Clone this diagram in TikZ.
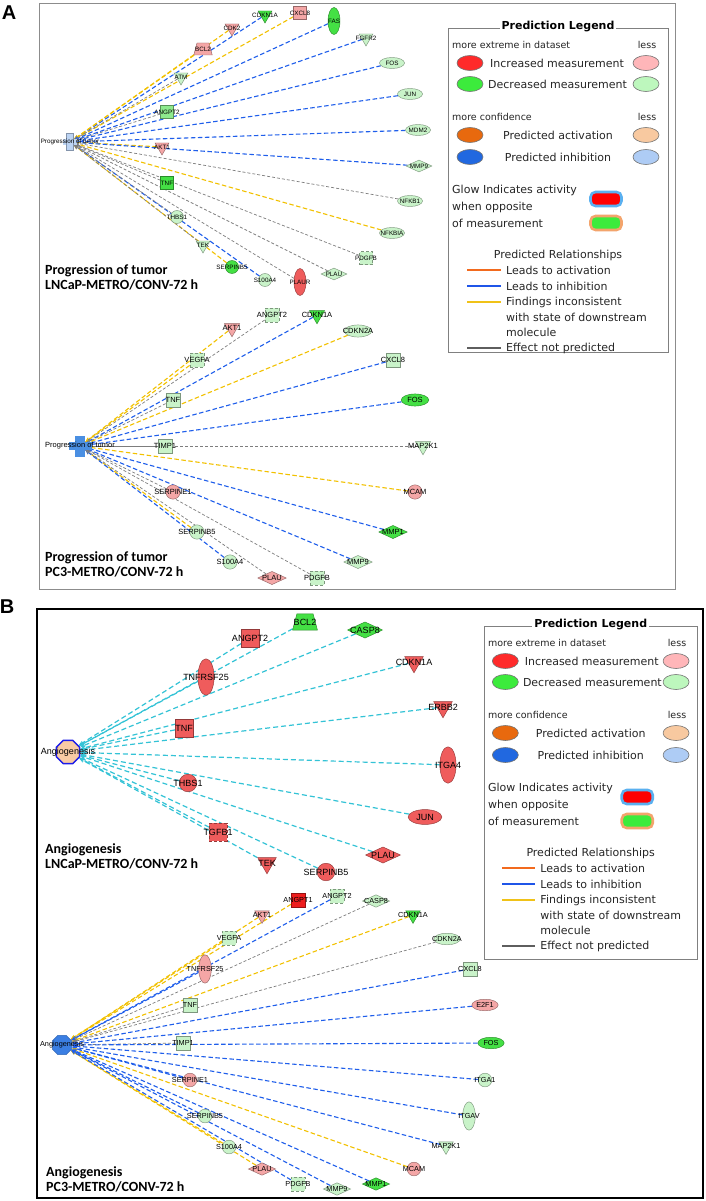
\documentclass[tikz,border=0pt]{standalone}
\usepackage{fontspec}
\newfontfamily\lab{Liberation Sans}
\newfontfamily\legf{DejaVu Sans}
\newfontfamily\ttl{Carlito}
\usetikzlibrary{shapes.geometric,arrows.meta,backgrounds}
\definecolor{pg}{HTML}{C9F3C9}
\definecolor{gr}{HTML}{44E044}
\definecolor{mg}{HTML}{8EEA8E}
\definecolor{pk}{HTML}{F4A6A6}
\definecolor{rd}{HTML}{EF5C5C}
\definecolor{rdb}{HTML}{EE1D1D}
\definecolor{eblue}{HTML}{1F5EEB}
\definecolor{eyel}{HTML}{F2C100}
\definecolor{egray}{HTML}{7D7D7D}
\definecolor{ecyan}{HTML}{33C3D6}
\definecolor{hubAa}{HTML}{BCD4F4}
\definecolor{hubAb}{HTML}{4A8FE2}
\definecolor{hubBa}{HTML}{F9CBA4}
\definecolor{hubBb}{HTML}{3B7FE3}
\definecolor{octb}{HTML}{1C1CE8}
\definecolor{lred}{HTML}{FF2A2A}
\definecolor{lpink}{HTML}{FFB6B9}
\definecolor{lgreen}{HTML}{3CEB3C}
\definecolor{lpgreen}{HTML}{BDF7BD}
\definecolor{lorange}{HTML}{E8690E}
\definecolor{lpeach}{HTML}{F8C9A0}
\definecolor{lblue}{HTML}{2168E0}
\definecolor{lpblue}{HTML}{AECCF5}
\definecolor{glowb}{HTML}{5AB0F0}
\definecolor{glowo}{HTML}{F3A46C}
\definecolor{lnor}{HTML}{F26A1E}
\definecolor{lnbl}{HTML}{1F55E8}
\definecolor{lnyl}{HTML}{F0C218}
\definecolor{lngr}{HTML}{5E5E5E}

\newcommand\PredLegend[4]{%
\begin{scope}[shift={(#1,#2)},xscale=#3]
 \draw[draw=black!50, line width=0.9pt] (0,0) rectangle (220,#4);
 \node[legttl] at (110,-1) {Prediction Legend};
 \node[legsm, anchor=west] at (4,17) {more extreme in dataset};
 \node[legsm] at (199,17) {less};
 \node[legell, fill=lred] at (22,35) {};
 \node[legtx, anchor=west] at (42,35) {Increased measurement};
 \node[legell, fill=lpink] at (198,35) {};
 \node[legell, fill=lgreen] at (22,56) {};
 \node[legtx, anchor=west] at (40,56) {Decreased measurement};
 \node[legell, fill=lpgreen] at (198,56) {};
 \node[legsm, anchor=west] at (4,89) {more confidence};
 \node[legsm] at (199,89) {less};
 \node[legell, fill=lorange] at (22,107) {};
 \node[legtx] at (110,107) {Predicted activation};
 \node[legell, fill=lpeach] at (198,107) {};
 \node[legell, fill=lblue] at (22,129) {};
 \node[legtx] at (110,129) {Predicted inhibition};
 \node[legell, fill=lpblue] at (198,129) {};
 \node[legtx, anchor=west] at (4,162) {Glow Indicates activity};
 \node[legtx, anchor=west] at (4,179) {when opposite};
 \node[legtx, anchor=west] at (4,195) {of measurement};
 \node[glowst=glowb, fill=red] at (158,171) {};
 \node[glowst=glowo, fill=lgreen] at (158,195) {};
 \node[legtx] at (110,227) {Predicted Relationships};
 \draw[legln, lnor] (19,242) -- (53,242);
 \node[legtx, anchor=west] at (58,242) {Leads to activation};
 \draw[legln, lnbl] (19,258) -- (53,258);
 \node[legtx, anchor=west] at (58,258) {Leads to inhibition};
 \draw[legln, lnyl] (19,274) -- (53,274);
 \node[legtx, anchor=west] at (58,274) {Findings inconsistent};
 \node[legtx, anchor=west] at (58,289) {with state of downstream};
 \node[legtx, anchor=west] at (58,304) {molecule};
 \draw[legln, lngr] (19,320) -- (53,320);
 \node[legtx, anchor=west] at (58,320) {Effect not predicted};
\end{scope}}

\begin{document}
\begin{tikzpicture}[x=1pt,y=-1pt,
  lbl/.style={font=\lab\fontsize{\fs}{\fs}\selectfont, inner sep=0pt},
  gene/.style={draw=#1!62!black, fill=#1, line width=0.45pt, inner sep=0.6pt},
  tri/.style={regular polygon, regular polygon sides=3, shape border rotate=180, minimum size=16*\sz},
  sq/.style={rectangle, minimum width=13*\sz, minimum height=13*\sz},
  sqd/.style={sq, densely dashed},
  gcirc/.style={circle, minimum size=13*\sz},
  ell/.style={ellipse, minimum width=25*\sz, minimum height=11*\sz},
  vell/.style={ellipse, minimum width=12*\sz, minimum height=27*\sz},
  dia/.style={diamond, minimum width=26*\sz, minimum height=12*\sz},
  trap/.style={trapezium, trapezium angle=75, minimum width=16*\sz, minimum height=12*\sz},
  ebase/.style={line width=1.1pt, dash pattern=on 4.5pt off 2.5pt, -{Stealth[length=5pt,width=4pt]}},
  eb/.style={ebase, draw=eblue},
  ey/.style={ebase, draw=eyel},
  eg/.style={ebase, draw=egray, line width=0.7pt, dash pattern=on 3pt off 2pt},
  eG/.style={ebase, draw=egray, line width=0.8pt, solid},
  ec/.style={ebase, draw=ecyan, line width=1.2pt, dash pattern=on 5pt off 3pt},
  hubbar/.style={rectangle, inner sep=0.5pt, draw=none},
  ttlst/.style={anchor=west, align=left, inner sep=0pt, font=\ttl\bfseries\fontsize{14}{15}\selectfont},
  letter/.style={font=\lab\bfseries\fontsize{20}{20}\selectfont, inner sep=0pt},
  legttl/.style={font=\legf\bfseries\fontsize{11}{12}\selectfont, fill=white, inner xsep=2pt, inner ysep=0pt},
  legtx/.style={font=\legf\fontsize{11}{12}\selectfont, inner sep=0pt, text=black!85},
  legsm/.style={font=\legf\fontsize{9.5}{10}\selectfont, inner sep=0pt, text=black!85},
  legell/.style={ellipse, minimum width=26pt, minimum height=15pt, draw=black!55, line width=0.6pt, inner sep=0.6pt},
  glowst/.style={rounded corners=5pt, minimum width=31pt, minimum height=14pt, draw=#1, line width=2.6pt, inner sep=0.6pt},
  legln/.style={line width=2.6pt}]
\useasboundingbox (0,0) rectangle (706,1201);
\begin{scope}[on background layer]
 \fill[white] (0,0) rectangle (706,1201);
\end{scope}

% frames and panel letters
\draw[draw=black!45, line width=1pt] (39,3.5) rectangle (675,589);
\draw[draw=black, line width=1.8pt] (37,609) rectangle (703,1198);
\node[letter] (LA) at (9,13) {A};
\node[letter] (LB) at (7,607) {B};

% ---------- Panel A, top network ----------
\def\sz{1}\def\fs{6.3}
\node[hubbar, fill=hubAa, minimum width=14, minimum height=6] (hA1h) at (70,142) {};
\node[hubbar, fill=hubAa, draw=hubAa!70!black, line width=0.4pt, minimum width=7, minimum height=17] (hA1) at (70,142) {};
\node[lbl] (hA1l) at (70,142) {Progression of tumor};
\foreach \gn/\gx/\gy/\gs/\gc/\ge in {CDKN1A/265/15/tri/gr/eb, CXCL8/300/13/sq/pk/ey, CDK2/232/28/tri/pk/ey, BCL2/203/49/trap/pk/ey, ATM/181/77/tri/pg/eg, FAS/334/21/vell/gr/eb, FGFR2/366/38/tri/pg/eb, FOS/392/63/ell/pg/eb, JUN/410/94/ell/pg/eb, MDM2/418/130/ell/pg/eb, ANGPT2/167/112/sq/mg/eg, AKT1/162/147/tri/pk/ey, MMP9/419/166/dia/pg/eb, NFKB1/410/201/ell/pg/eg, NFKBIA/392/233/ell/pg/ey, PDGFB/366/258/sqd/pg/eg, PLAU/334/274/dia/pg/eg, PLAUR/300/282/vell/rd/eg, S100A4/265/280/gcirc/pg/eb, SERPINB5/232/267/gcirc/gr/ey, TEK/203/245/tri/pg/eg, THBS1/177/217/gcirc/pg/eg, TNF/167/183/sq/gr/eg}{
  \node[\gs, gene=\gc] (a\gn) at (\gx,\gy) {};
  \node[lbl] (a\gn-t) at (a\gn.center) {\gn};
  \begin{scope}[on background layer]\draw[\ge] (a\gn) -- (hA1);\end{scope}
}
\node[ttlst] (tA1) at (45,277.5) {Progression of tumor\\LNCaP-METRO/CONV-72 h};

% ---------- Panel A, bottom network ----------
\def\sz{1.1}\def\fs{7.5}
\node[hubbar, fill=hubAb, minimum width=23, minimum height=8] (hA2h) at (80,446) {};
\node[hubbar, fill=hubAb, minimum width=10, minimum height=21] (hA2) at (80,446) {};
\node[lbl] (hA2l) at (80,446) {Progression of tumor};
\foreach \gn/\gx/\gy/\gs/\gc/\ge in {AKT1/232/328/tri/pk/ey, ANGPT2/272/315/sqd/pg/eg, CDKN1A/317/315/tri/gr/eb, CDKN2A/358/331/ell/pg/ey, VEGFA/197/360/sqd/pg/ey, CXCL8/393/360/sq/pg/eb, TNF/173/400/sq/pg/eg, FOS/415/400/ell/gr/eb, TIMP1/165/446/sq/pg/eG, MAP2K1/423/446/tri/pg/eg, MCAM/415/492/gcirc/pk/ey, SERPINE1/173/492/gcirc/pk/eg, MMP1/393/532/dia/gr/eb, SERPINB5/197/532/gcirc/pg/ey, MMP9/358/562/dia/pg/eb, S100A4/230/562/gcirc/pg/eb, PLAU/272/578/dia/pk/eg, PDGFB/317/578/sqd/pg/eg}{
  \node[\gs, gene=\gc] (b\gn) at (\gx,\gy) {};
  \node[lbl] (b\gn-t) at (b\gn.center) {\gn};
  \begin{scope}[on background layer]\draw[\ge] (b\gn) -- (hA2);\end{scope}
}
\node[ttlst] (tA2) at (45,564.5) {Progression of tumor\\PC3-METRO/CONV-72 h};

\PredLegend{448}{28}{1}{324}

% ---------- Panel B, top network ----------
\def\sz{1.35}\def\fs{9}
\node[regular polygon, regular polygon sides=8, minimum size=25, inner sep=0.5pt, fill=hubBa, draw=octb, line width=1.5pt] (hB1) at (68,752) {};
\node[lbl] (hB1l) at (68,752) {Angiogenesis};
\foreach \gn/\gx/\gy/\gs/\gc/\ge in {BCL2/305/622/trap/gr/ec, CASP8/365/630/dia/gr/ec, ANGPT2/250/638/sq/rd/ec, CDKN1A/414/662/tri/rd/ec, TNFRSF25/206/677/vell/rd/ec, ERBB2/443/707/tri/rd/ec, TNF/184/728/sq/rd/ec, ITGA4/448/765/vell/rd/ec, THBS1/188/783/gcirc/rd/ec, JUN/425/817/ell/rd/ec, TGFB1/218/832/sqd/rd/ec, TEK/267/863/tri/rd/ec, SERPINB5/326/872/gcirc/rd/ec, PLAU/383/855/dia/rd/ec}{
  \node[\gs, gene=\gc] (c\gn) at (\gx,\gy) {};
  \node[lbl] (c\gn-t) at (c\gn.center) {\gn};
  \begin{scope}[on background layer]\draw[\ge] (c\gn) -- (hB1);\end{scope}
}
\node[ttlst] (tB1) at (45,856) {Angiogenesis\\LNCaP-METRO/CONV-72 h};

% ---------- Panel B, bottom network ----------
\def\sz{1.05}\def\fs{7.3}
\node[regular polygon, regular polygon sides=8, minimum size=21, inner sep=0.5pt, fill=hubBb, draw=hubBb!80!black, line width=0.5pt] (hB2) at (62,1045) {};
\node[lbl] (hB2l) at (62,1045) {Angiogenesis};
\foreach \gn/\gx/\gy/\gs/\gc/\ge in {AKT1/262/915/tri/pk/ey, ANGPT1/298/900/sq/rdb/ey, ANGPT2/337/896/sqd/pg/eb, CASP8/376/901/dia/pg/eg, CDKN1A/413/915/tri/gr/ey, VEGFA/229/938/sqd/pg/ey, TNFRSF25/205/969/vell/pk/eb, CDKN2A/447/939/ell/pg/eg, CXCL8/470/969/sq/pg/eb, TNF/190/1005/sq/pg/eg, E2F1/485/1005/ell/pk/eb, TIMP1/183/1043/sq/pg/eg, FOS/491/1043/ell/gr/eb, ITGA1/485/1080/gcirc/pg/eb, SERPINE1/190/1080/gcirc/pk/eb, ITGAV/469/1116/vell/pg/eb, SERPINB5/205/1116/gcirc/pg/eb, MAP2K1/446/1146/tri/pg/eb, S100A4/229/1147/gcirc/pg/ey, MCAM/414/1169/gcirc/pk/ey, PLAU/262/1169/dia/pk/ey, PDGFB/298/1184/sqd/pg/eb, MMP9/337/1189/dia/pg/eb, MMP1/376/1184/dia/gr/eb}{
  \node[\gs, gene=\gc] (d\gn) at (\gx,\gy) {};
  \node[lbl] (d\gn-t) at (d\gn.center) {\gn};
  \begin{scope}[on background layer]\draw[\ge] (d\gn) -- (hB2);\end{scope}
}
\node[ttlst] (tB2) at (46,1179.5) {Angiogenesis\\PC3-METRO/CONV-72 h};

\PredLegend{484}{626}{0.97}{333}
\end{tikzpicture}
\end{document}
